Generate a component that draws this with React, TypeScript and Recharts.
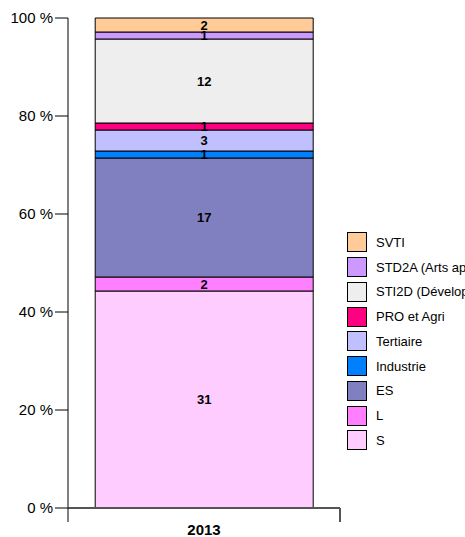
import { BarChart, Bar, XAxis, YAxis, LabelList } from 'recharts';

const categories = ['2013'];
const seriesNames = [
  'S',
  'L',
  'ES',
  'Industrie',
  'Tertiaire',
  'PRO et Agri',
  'STI2D (Développement durable)',
  'STD2A (Arts appliqués)',
  'SVTI',
];
const seriesValues = [31, 2, 17, 1, 3, 1, 12, 1, 2];
const seriesColors = [
  '#FFCCFF',
  '#FF80FF',
  '#8080C0',
  '#0080FF',
  '#C0C0FF',
  '#FF0080',
  '#EEEEEE',
  '#CC99FF',
  '#FFCC99',
];
const yTicks = [0, 0.2, 0.4, 0.6, 0.8, 1];

const data = categories.map((year) => {
  const row: any = { year };
  seriesNames.forEach((_, i) => {
    row['s' + i] = seriesValues[i];
  });
  return row;
});

const font = '"Liberation Sans", Arial, sans-serif';

function YearTick(props: any) {
  const { x, y, payload, width } = props;
  const half = (width || 272) / 2;
  return (
    <g>
      <line x1={x - half} y1={y} x2={x - half} y2={y + 14} stroke="#000" />
      <line x1={x + half} y1={y} x2={x + half} y2={y + 14} stroke="#555" strokeWidth={2} />
      <text x={x} y={y + 27} textAnchor="middle" fontWeight="bold" fontSize={15} fill="#000" fontFamily={font}>
        {payload.value}
      </text>
    </g>
  );
}

export default function App() {
  const legendOrder = seriesNames.map((_, i) => i).reverse();
  return (
    <div style={{ position: 'absolute', left: 0, top: 0, width: 465, height: 537, overflow: 'hidden', fontFamily: font }}>
      <BarChart
        width={465}
        height={537}
        data={data}
        stackOffset="expand"
        barCategoryGap="10%"
        margin={{ top: 18, right: 125, left: 0, bottom: 0 }}
      >
        <YAxis
          width={68}
          domain={[0, 1]}
          ticks={yTicks}
          tickFormatter={(v: number) => `${Math.round(v * 100)} %`}
          tick={{ fill: '#000', fontSize: 15, fontFamily: font }}
          axisLine={{ stroke: '#000' }}
          tickLine={{ stroke: '#000' }}
          tickSize={13}
          tickMargin={2}
        />
        <XAxis
          dataKey="year"
          height={29}
          axisLine={{ stroke: '#555', strokeWidth: 2 }}
          tickLine={false}
          tickSize={0}
          tickMargin={0}
          tick={<YearTick />}
        />
        {seriesNames.map((name, i) => (
          <Bar
            key={name}
            dataKey={'s' + i}
            name={name}
            stackId="a"
            fill={seriesColors[i]}
            stroke="#000"
            strokeWidth={1}
            isAnimationActive={false}
          >
            <LabelList
              dataKey={'s' + i}
              position="center"
              fill="#000"
              fontWeight="bold"
              fontSize={13}
              fontFamily={font}
            />
          </Bar>
        ))}
      </BarChart>
      <div style={{ position: 'absolute', left: 347, top: 230, width: 118, overflow: 'hidden' }}>
        {legendOrder.map((i) => (
          <div key={i} style={{ display: 'flex', alignItems: 'center', height: 24.75, whiteSpace: 'nowrap' }}>
            <span
              style={{
                display: 'inline-block',
                width: 20,
                height: 20,
                boxSizing: 'border-box',
                background: seriesColors[i],
                border: '1px solid #000',
                marginRight: 9,
                flex: 'none',
              }}
            />
            <span style={{ fontSize: 13, color: '#000' }}>{seriesNames[i]}</span>
          </div>
        ))}
      </div>
    </div>
  );
}
